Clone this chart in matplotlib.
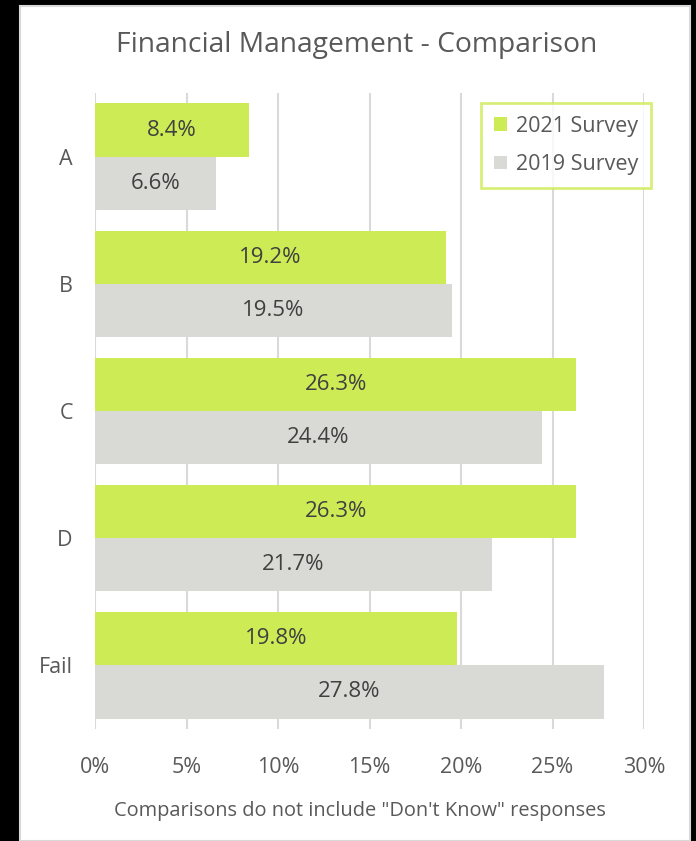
import matplotlib.pyplot as plt
from matplotlib.patches import Rectangle
import numpy as np

categories = ["A", "B", "C", "D", "Fail"]
survey_2021 = [8.4, 19.2, 26.3, 26.3, 19.8]
survey_2019 = [6.6, 19.5, 24.4, 21.7, 27.8]
xticks = [0, 5, 10, 15, 20, 25, 30]

green = "#CDEB55"
grey = "#D9D9D6"
text_col = "#595959"

plt.rcParams['font.family'] = ['Open Sans', 'DejaVu Sans']

W, H = 696, 841
fig = plt.figure(figsize=(W / 100, H / 100), dpi=100, facecolor="black")

# white chart area with thin light frame
fig.patches.append(Rectangle((20 / W, 0), 670 / W, 835 / H, transform=fig.transFigure,
                             facecolor="white", edgecolor="#D9D9D9", linewidth=1.5, zorder=-10))

ax = fig.add_axes([95 / W, 1 - 729 / H, (644 - 95) / W, (729 - 93) / H])
ax.set_facecolor("white")

y = np.arange(len(categories))
bar_h = 0.418
ax.barh(y - bar_h / 2, survey_2021, height=bar_h, color=green, label="2021 Survey", zorder=2)
ax.barh(y + bar_h / 2, survey_2019, height=bar_h, color=grey, label="2019 Survey", zorder=2)

for i in range(len(categories)):
    ax.text(survey_2021[i] / 2, y[i] - bar_h / 2, f"{survey_2021[i]:.1f}%", ha="center", va="center",
            fontsize=16, color="#404040", zorder=3)
    ax.text(survey_2019[i] / 2, y[i] + bar_h / 2, f"{survey_2019[i]:.1f}%", ha="center", va="center",
            fontsize=16, color="#404040", zorder=3)

ax.set_ylim(len(categories) - 0.5, -0.5)
ax.set_xlim(0, 30)
ax.set_yticks(y)
ax.set_yticklabels(categories, fontsize=15.5, color=text_col)
ax.set_xticks(xticks)
ax.set_xticklabels([f"{t}%" for t in xticks], fontsize=15.5, color=text_col)
ax.tick_params(axis="both", length=0)
ax.tick_params(axis="y", pad=16)
ax.tick_params(axis="x", pad=20)
ax.grid(axis="x", color="#D9D9D9", linewidth=1.5, zorder=0)
for s in ax.spines.values():
    s.set_visible(False)

leg = ax.legend(loc="upper right", bbox_to_anchor=(651 / W, 1 - 103 / H), bbox_transform=fig.transFigure,
                borderaxespad=0, fontsize=15.5, frameon=True, fancybox=False, handlelength=0.6, handleheight=0.6,
                handletextpad=0.4, borderpad=0.6, labelspacing=0.8, labelcolor=text_col)
leg.get_frame().set_edgecolor("#CDEB55")
leg.get_frame().set_linewidth(2)

fig.text(357 / W, 1 - 45 / H, "Financial Management - Comparison", ha="center", va="center",
         fontsize=20.3, color=text_col)
fig.text(360 / W, 1 - 811 / H, "Comparisons do not include \"Don't Know\" responses", ha="center", va="center",
         fontsize=14.4, color=text_col)

fig.savefig("out.png", dpi=100, facecolor=fig.get_facecolor())
